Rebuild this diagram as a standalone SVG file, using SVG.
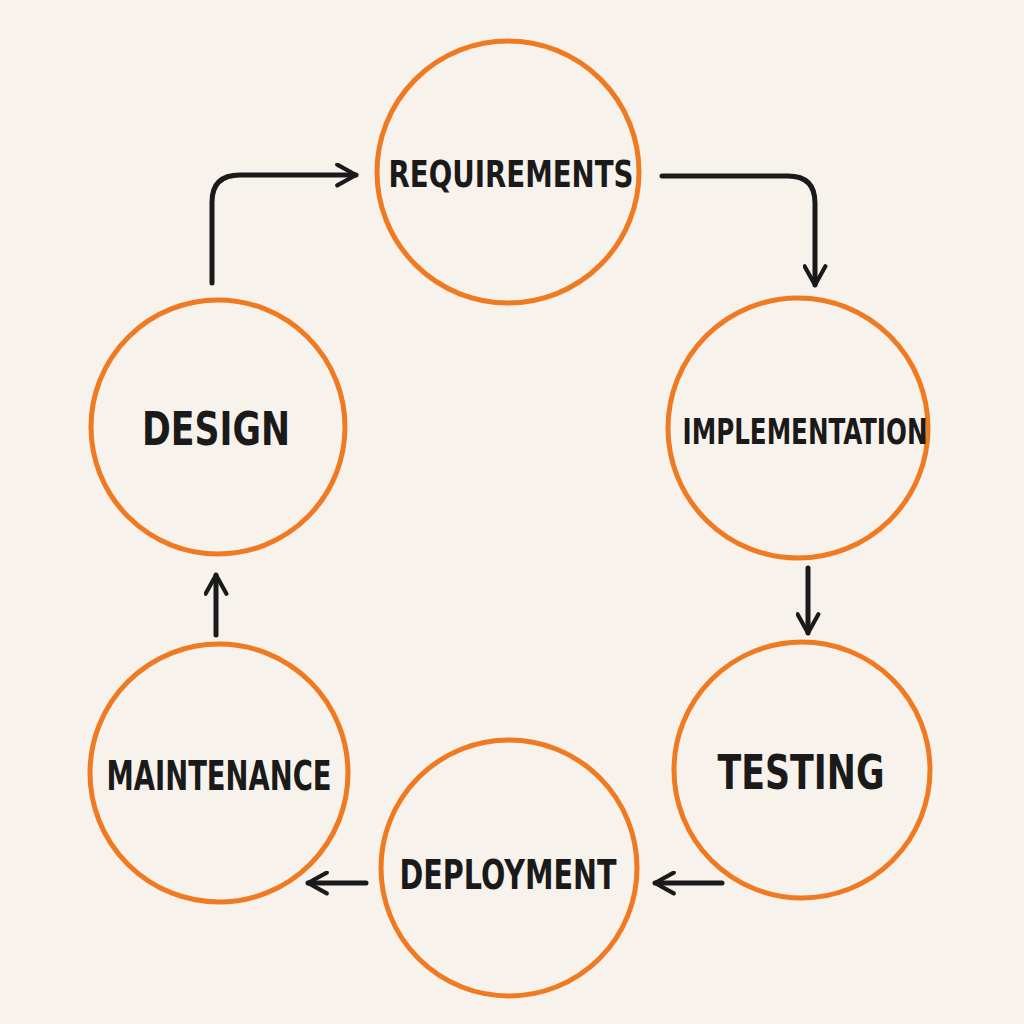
<svg xmlns="http://www.w3.org/2000/svg" width="1024" height="1024" viewBox="0 0 1024 1024">
<style>
.n{fill:none;stroke:#f07a22;stroke-width:5}
.t{font-family:"DejaVu Sans Condensed","DejaVu Sans",sans-serif;font-weight:bold;fill:#1a1a1a;text-anchor:middle;dominant-baseline:central}
.c{fill:none;stroke:#1a1a1a;stroke-width:5;stroke-linecap:round;stroke-linejoin:round}
</style>
<defs>
<marker id="a" viewBox="0 0 12 12" refX="10" refY="6" markerWidth="5" markerHeight="5" orient="auto" markerUnits="strokeWidth">
<path d="M1,1 L10,6 L1,11" fill="none" stroke="#1a1a1a" stroke-width="2" stroke-linecap="round" stroke-linejoin="round"/>
</marker>
</defs>
<rect width="1024" height="1024" fill="#f7f3ec"/>
<g id="requirements"><circle class="n" cx="508" cy="172" r="131"/><text class="t" x="511" y="174" font-size="38" textLength="245" lengthAdjust="spacingAndGlyphs">REQUIREMENTS</text></g>
<g id="implementation"><circle class="n" cx="798" cy="428" r="130"/><text class="t" x="805" y="431" font-size="36" textLength="245" lengthAdjust="spacingAndGlyphs">IMPLEMENTATION</text></g>
<g id="testing"><circle class="n" cx="802" cy="770" r="128"/><text class="t" x="801" y="772" font-size="48" textLength="167" lengthAdjust="spacingAndGlyphs">TESTING</text></g>
<g id="deployment"><circle class="n" cx="509" cy="868" r="128"/><text class="t" x="508" y="875" font-size="40" textLength="217" lengthAdjust="spacingAndGlyphs">DEPLOYMENT</text></g>
<g id="maintenance"><circle class="n" cx="219" cy="773" r="129"/><text class="t" x="219" y="776" font-size="40" textLength="225" lengthAdjust="spacingAndGlyphs">MAINTENANCE</text></g>
<g id="design"><circle class="n" cx="218" cy="427" r="127"/><text class="t" x="216" y="429" font-size="46" textLength="148" lengthAdjust="spacingAndGlyphs">DESIGN</text></g>
<g id="connectors">
<path class="c" marker-end="url(#a)" d="M212,283 L212,202 Q212,175 240,175 L356,175"/>
<path class="c" marker-end="url(#a)" d="M662,176 L788,176 Q815,176 815,203 L815,285"/>
<path class="c" marker-end="url(#a)" d="M808,568 L808,633"/>
<path class="c" marker-end="url(#a)" d="M722,883 L655,883"/>
<path class="c" marker-end="url(#a)" d="M366,883 L308,883"/>
<path class="c" marker-end="url(#a)" d="M216,635 L216,575"/>
</g>
</svg>
